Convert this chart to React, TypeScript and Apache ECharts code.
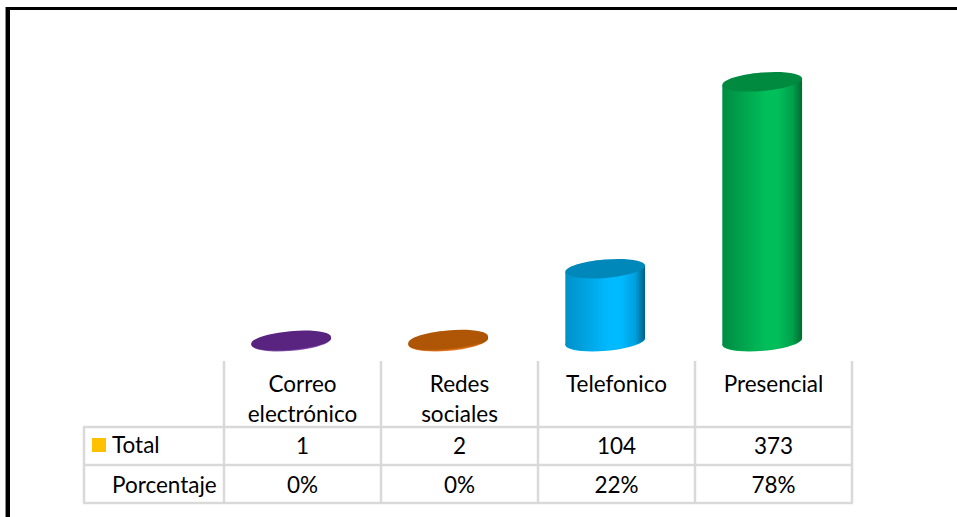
import React, { useEffect, useRef } from "react";
import * as echarts from "echarts";

const categories = ["Correo\nelectrónico", "Redes\nsociales", "Telefonico", "Presencial"];
const totals = [1, 2, 104, 373];
const percents = ["0%", "0%", "22%", "78%"];
const rowNames = ["Total", "Porcentaje"];
const bodyLeft = ["#4f2274", "#a05206", "#0090C8", "#008C42"];
const bodyMid = ["#6a2c99", "#d06a0a", "#00BAFF", "#00BE5A"];
const bodyFade = ["#5a2684", "#b85e08", "#009FDC", "#00A04C"];
const bodyRight = ["#3f1a5c", "#8a4504", "#005F85", "#006A30"];
const topColors = ["#582480", "#AE5606", "#0088BA", "#008A40"];
const rimColors = ["#8a60b0", "#ED7D31", "#00B0F0", "#00B050"];

const FONT = "Lato";
const FONT_SIZE = 22.5;
const LEFT = 224;
const RIGHT = 852;
const ROW_Y = [361, 427, 465, 503];
const GRID = "#D9D9D9";
const THETA = 0.085;

function renderCylinder(params: any, api: any) {
  const i = api.value(0);
  const [cx0, yTop] = api.coord([i, api.value(1)]);
  const [, yBase] = api.coord([i, 0]);
  const band = api.size([1, 0])[0];
  const cx = cx0 - band * 0.072;
  const rx = band * 0.255;
  const ry = 9.2;
  const pts: number[][] = [];
  const cosT = Math.cos(THETA);
  const sinT = Math.sin(THETA);
  const at = (t: number, y: number) => [
    cx + rx * Math.cos(t) * cosT + ry * Math.sin(t) * sinT,
    y - rx * Math.cos(t) * sinT + ry * Math.sin(t) * cosT,
  ];
  pts.push(at(Math.PI, yTop), at(0, yTop));
  for (let k = 0; k <= 40; k++) pts.push(at((Math.PI * k) / 40, yBase));
  const gradient = {
    type: "linear",
    x: 0,
    y: 0,
    x2: 1,
    y2: 0,
    colorStops: [
      { offset: 0, color: bodyLeft[i] },
      { offset: 0.55, color: bodyMid[i] },
      { offset: 0.7, color: bodyMid[i] },
      { offset: 0.88, color: bodyFade[i] },
      { offset: 1, color: bodyRight[i] },
    ],
  };
  return {
    type: "group",
    children: [
      {
        type: "ellipse",
        x: cx,
        y: yBase + 0.6,
        rotation: THETA,
        shape: { cx: 0, cy: 0, rx, ry },
        style: { fill: rimColors[i] },
      },
      { type: "polygon", shape: { points: pts }, style: { fill: gradient } },
      {
        type: "ellipse",
        x: cx,
        y: yTop,
        rotation: THETA,
        shape: { cx: 0, cy: 0, rx, ry },
        style: { fill: topColors[i] },
      },
    ],
  };
}

function tableGraphics() {
  const band = (RIGHT - LEFT) / categories.length;
  const els: any[] = [
    { type: "rect", shape: { x: 5, y: 7, width: 1, height: 510 }, style: { fill: "#8c8c8c" } },
    { type: "rect", shape: { x: 6, y: 7, width: 4, height: 510 }, style: { fill: "#000" } },
    { type: "rect", shape: { x: 6, y: 7, width: 951, height: 3 }, style: { fill: "#000" } },
  ];
  const line = (x1: number, y1: number, x2: number, y2: number) => ({
    type: "line",
    shape: { x1, y1, x2, y2 },
    style: { stroke: GRID, lineWidth: 2.5 },
  });
  for (let c = 0; c <= categories.length; c++) {
    els.push(line(LEFT + band * c, ROW_Y[0], LEFT + band * c, ROW_Y[3]));
  }
  els.push(line(84, ROW_Y[1], 84, ROW_Y[3]));
  for (let r = 1; r < ROW_Y.length; r++) els.push(line(83, ROW_Y[r], RIGHT + 1, ROW_Y[r]));
  els.push({ type: "rect", shape: { x: 92, y: 438, width: 14, height: 14 }, style: { fill: "#FFC000" } });
  const text = (t: string, x: number, y: number, align: string) => ({
    type: "text",
    x,
    y,
    style: { text: t, fill: "#000", font: `${FONT_SIZE}px ${FONT}`, textAlign: align, textVerticalAlign: "middle" },
  });
  rowNames.forEach((name, r) => els.push(text(name, 112, r === 0 ? 444 : 484, "left")));
  totals.forEach((v, c) => els.push(text(String(v), LEFT + band * (c + 0.5), 445, "center")));
  percents.forEach((v, c) => els.push(text(v, LEFT + band * (c + 0.5), 484, "center")));
  return els;
}

export default function App() {
  const ref = useRef<HTMLDivElement>(null);
  useEffect(() => {
    document.body.style.margin = "0";
    const chart = echarts.init(ref.current!, null, { renderer: "svg" });
    chart.setOption({
      animation: false,
      backgroundColor: "#fff",
      grid: { left: LEFT, width: RIGHT - LEFT, top: 63, height: 278 },
      xAxis: {
        type: "category",
        data: categories,
        axisLine: { show: false },
        axisTick: { show: false },
        axisLabel: {
          interval: 0,
          margin: 27,
          color: "#000",
          fontFamily: FONT,
          fontSize: FONT_SIZE,
          lineHeight: 30,
          verticalAlign: "top",
        },
      },
      yAxis: { type: "value", min: 0, max: 400, show: false, splitLine: { show: false } },
      series: [
        {
          type: "custom",
          clip: false,
          renderItem: renderCylinder,
          encode: { x: 0, y: 1 },
          data: totals.map((v, i) => [i, v]),
        },
      ],
      graphic: tableGraphics(),
    });
    return () => chart.dispose();
  }, []);
  return <div ref={ref} style={{ width: 957, height: 517 }} />;
}
